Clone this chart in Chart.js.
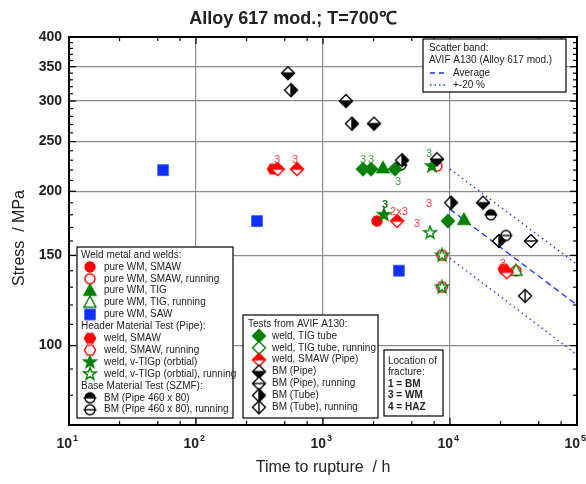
<!DOCTYPE html>
<html>
<head>
<meta charset="utf-8">
<script src="https://cdn.jsdelivr.net/npm/chart.js@4.4.1/dist/chart.umd.min.js"></script>
<style>
  html, body { margin: 0; padding: 0; background: #fff; }
  #wrap { width: 586px; height: 484px; }
</style>
</head>
<body>
<div id="wrap"><canvas id="grafico" width="586" height="484"></canvas></div>
<script>
const FONT = '"Liberation Sans", Arial, Helvetica, sans-serif';
const RED = '#ff0000', GREEN = '#008000', BLUE = '#1030ff', BLACK = '#000000';

// [time to rupture / h, stress / MPa]
const pureWmSmaw = [[2660, 175]];
const pureWmSmawRun = [[7900, 224], [33100, 140]];
const pureWmTig = [[2966, 222], [12880, 176]];
const pureWmTigRun = [[33100, 140]];
const pureWmSaw = [[55, 220], [302, 175], [3960, 140]];
const weldSmaw = [[405, 221], [26500, 141]];
const weldSmawRun = [[8650, 150], [8650, 130]];
const weldTigp = [[7210, 224], [3020, 180]];
const weldTigpRun = [[6970, 166], [8650, 150], [8650, 130]];
const bmPipe460 = [[4100, 225], [21000, 180]];
const bmPipe460Run = [[27600, 164]];
const weldTigTube = [[2065, 221], [2388, 221], [3690, 221], [9640, 175]];
const weldSmawPipe = [[440, 221], [624, 221], [3830, 175], [28000, 139]];
const bmPipe = [[530, 340], [1517, 300], [2523, 271], [7900, 231], [18200, 190]];
const bmPipeRun = [[43400, 160]];
const bmTube = [[560, 315], [1690, 271], [4190, 230], [10190, 190], [24300, 160]];
const bmTubeRun = [[39000, 125]];

// scatter band AVIF A130
const bandTime = [10000, 100000];
const bandAverage = [184.5, 120];
const bandUpper = [221, 144];
const bandLower = [148, 96];

// fracture location labels: [time, stress, text, colour]
const fractureLabels = [
  [435, 230, '3', '#ff3b3b'], [603, 230, '3', '#ff3b3b'],
  [3960, 182, '2x3', '#ff3b3b'], [5500, 173, '3', '#ff3b3b'],
  [6840, 189, '3', '#ff3b3b'], [26100, 144.5, '3', '#ff3b3b'],
  [2065, 230, '3', '#3a9a3a'], [2388, 230, '3', '#3a9a3a'],
  [3900, 209, '3', '#3a9a3a'], [6840, 236.5, '3', '#3a9a3a'],
  [3080, 188, '3', '#1d6b1d']
];

const xDecades = [10, 100, 1000, 10000, 100000];
const xExponents = ['1', '2', '3', '4', '5'];
const yTicks = [100, 150, 200, 250, 300, 350, 400];

function symbol(shape, mode, color) {
  const s = 16, c = 8;
  const cv = document.createElement('canvas');
  cv.width = s; cv.height = s;
  const g = cv.getContext('2d');
  const path = () => {
    g.beginPath();
    if (shape === 'circle') g.arc(c, c, 5, 0, Math.PI * 2);
    if (shape === 'hex') for (let k = 0; k < 6; k++) {
      const a = k * Math.PI / 3;
      g.lineTo(c + 5.6 * Math.cos(a), c + 5.6 * Math.sin(a));
    }
    if (shape === 'tri') { g.moveTo(c, c - 6.5); g.lineTo(c + 6, c + 4.5); g.lineTo(c - 6, c + 4.5); }
    if (shape === 'square') g.rect(c - 5, c - 5, 10, 10);
    if (shape === 'star') for (let k = 0; k < 10; k++) {
      const r = k % 2 ? 2.7 : 6.6, a = -Math.PI / 2 + k * Math.PI / 5;
      g.lineTo(c + r * Math.cos(a), c + r * Math.sin(a));
    }
    if (shape === 'diamond') { g.moveTo(c, c - 6.5); g.lineTo(c + 6.5, c); g.lineTo(c, c + 6.5); g.lineTo(c - 6.5, c); }
    g.closePath();
  };
  g.lineWidth = 1.4;
  g.strokeStyle = color;
  g.fillStyle = color;
  path();
  if (mode === 'fill') { g.fill(); g.stroke(); return cv; }
  g.fillStyle = '#fff';
  g.fill();
  if (mode !== 'open' && mode !== 'lineH' && mode !== 'lineV') {
    g.save();
    path();
    g.clip();
    g.fillStyle = color;
    if (mode === 'halfTop') g.fillRect(0, 0, s, c);
    if (mode === 'halfBottom') g.fillRect(0, c, s, c);
    if (mode === 'halfRight') g.fillRect(c, 0, c, s);
    g.restore();
  }
  path();
  g.stroke();
  g.beginPath();
  if (mode === 'lineH' || mode === 'halfTop' || mode === 'halfBottom') { g.moveTo(c - 6.5, c); g.lineTo(c + 6.5, c); }
  if (mode === 'lineV' || mode === 'halfRight') { g.moveTo(c, c - 6.5); g.lineTo(c, c + 6.5); }
  g.stroke();
  return cv;
}

const sym = {
  pureWmSmaw: symbol('circle', 'fill', RED),
  pureWmSmawRun: symbol('circle', 'open', RED),
  pureWmTig: symbol('tri', 'fill', GREEN),
  pureWmTigRun: symbol('tri', 'open', GREEN),
  pureWmSaw: symbol('square', 'fill', BLUE),
  weldSmaw: symbol('hex', 'fill', RED),
  weldSmawRun: symbol('hex', 'open', RED),
  weldTigp: symbol('star', 'fill', GREEN),
  weldTigpRun: symbol('star', 'open', GREEN),
  bmPipe460: symbol('circle', 'halfTop', BLACK),
  bmPipe460Run: symbol('circle', 'lineH', BLACK),
  weldTigTube: symbol('diamond', 'fill', GREEN),
  weldTigTubeRun: symbol('diamond', 'open', GREEN),
  weldSmawPipe: symbol('diamond', 'halfTop', RED),
  bmPipe: symbol('diamond', 'halfBottom', BLACK),
  bmPipeRun: symbol('diamond', 'lineH', BLACK),
  bmTube: symbol('diamond', 'halfRight', BLACK),
  bmTubeRun: symbol('diamond', 'lineV', BLACK)
};

const series = (points, style, order) => ({
  data: points.map(([x, y]) => ({ x, y })),
  pointStyle: style,
  pointRadius: 6,
  showLine: false,
  order: order
});

const band = (values, dash) => ({
  data: bandTime.map((t, i) => ({ x: t, y: values[i] })),
  showLine: true,
  pointRadius: 0,
  borderColor: BLUE,
  borderWidth: 1.3,
  borderDash: dash,
  order: 20
});

const legendWeld = [
  [null, 'Weld metal and welds:'],
  ['pureWmSmaw', 'pure WM, SMAW'],
  ['pureWmSmawRun', 'pure WM, SMAW, running'],
  ['pureWmTig', 'pure WM, TIG'],
  ['pureWmTigRun', 'pure WM, TIG, running'],
  ['pureWmSaw', 'pure WM, SAW'],
  [null, 'Header Material Test (Pipe):'],
  ['weldSmaw', 'weld, SMAW'],
  ['weldSmawRun', 'weld, SMAW, running'],
  ['weldTigp', 'weld, v-TIGp (orbtial)'],
  ['weldTigpRun', 'weld, v-TIGp (orbtial), running'],
  [null, 'Base Material Test (SZMF):'],
  ['bmPipe460', 'BM (Pipe 460 x 80)'],
  ['bmPipe460Run', 'BM (Pipe 460 x 80), running']
];
const legendAvif = [
  [null, 'Tests from AVIF A130:'],
  ['weldTigTube', 'weld, TIG tube'],
  ['weldTigTubeRun', 'weld, TIG tube, running'],
  ['weldSmawPipe', 'weld, SMAW (Pipe)'],
  ['bmPipe', 'BM (Pipe)'],
  ['bmPipeRun', 'BM (Pipe), running'],
  ['bmTube', 'BM (Tube)'],
  ['bmTubeRun', 'BM (Tube), running']
];
const fractureKey = ['1 = BM', '3 = WM', '4 = HAZ'];

function box(ctx, x1, y1, x2, y2) {
  ctx.fillStyle = '#fff';
  ctx.fillRect(x1, y1, x2 - x1, y2 - y1);
  ctx.strokeStyle = '#000';
  ctx.lineWidth = 1.2;
  ctx.strokeRect(x1, y1, x2 - x1, y2 - y1);
}

function legendRows(ctx, rows, hx, sx, tx, y0, step) {
  ctx.font = '10px ' + FONT;
  ctx.textBaseline = 'middle';
  ctx.textAlign = 'left';
  rows.forEach(([key, text], i) => {
    const y = y0 + i * step;
    ctx.fillStyle = '#222';
    if (key === null) { ctx.fillText(text, hx, y); return; }
    const im = sym[key];
    ctx.drawImage(im, sx - im.width / 2, y - im.height / 2);
    ctx.fillStyle = '#222';
    ctx.fillText(text, tx, y);
  });
}

const decor = {
  id: 'decor',
  afterDraw(chart) {
    const ctx = chart.ctx, a = chart.chartArea;
    const xs = chart.scales.x, ys = chart.scales.y;
    ctx.save();

    // fracture labels
    ctx.textAlign = 'center';
    ctx.textBaseline = 'middle';
    fractureLabels.forEach(([t, s, text, col]) => {
      ctx.fillStyle = col;
      ctx.font = (col === '#1d6b1d' ? 'bold ' : '') + '11px ' + FONT;
      ctx.fillText(text, xs.getPixelForValue(t), ys.getPixelForValue(s));
    });

    // frame and inside ticks
    ctx.strokeStyle = '#000';
    ctx.lineWidth = 2;
    ctx.strokeRect(a.left, a.top, a.right - a.left, a.bottom - a.top);
    ctx.lineWidth = 1.2;
    const tick = (x1, y1, x2, y2) => { ctx.beginPath(); ctx.moveTo(x1, y1); ctx.lineTo(x2, y2); ctx.stroke(); };
    xDecades.forEach((d, i) => {
      const px = xs.getPixelForValue(d);
      tick(px, a.bottom, px, a.bottom - 7);
      tick(px, a.top, px, a.top + 7);
      if (i < xDecades.length - 1) [2.5, 5, 7.5].forEach(f => {
        const pm = xs.getPixelForValue(d * f);
        tick(pm, a.bottom, pm, a.bottom - 4);
        tick(pm, a.top, pm, a.top + 4);
      });
    });
    for (let v = 80; v < 400; v += 10) {
      const py = ys.getPixelForValue(v);
      const len = yTicks.includes(v) ? 7 : 4;
      tick(a.left, py, a.left + len, py);
      tick(a.right, py, a.right - len, py);
    }

    // x tick labels with superscript
    ctx.fillStyle = '#222';
    ctx.textBaseline = 'alphabetic';
    xDecades.forEach((d, i) => {
      const px = xs.getPixelForValue(d);
      ctx.font = 'bold 14px ' + FONT;
      ctx.textAlign = 'right';
      ctx.fillText('10', px + 3, 448);
      ctx.font = 'bold 9px ' + FONT;
      ctx.textAlign = 'left';
      ctx.fillText(xExponents[i], px + 4, 441);
    });

    // titles
    ctx.textAlign = 'center';
    ctx.textBaseline = 'middle';
    ctx.font = 'bold 18px ' + FONT;
    ctx.fillText('Alloy 617 mod.; T=700\u2103', 293, 19);
    ctx.font = '16px ' + FONT;
    ctx.fillText('Time to rupture  / h', (a.left + a.right) / 2, 468);
    ctx.save();
    ctx.translate(20, 238);
    ctx.rotate(-Math.PI / 2);
    ctx.fillText('Stress  / MPa', 0, 0);
    ctx.restore();

    // scatter band key
    box(ctx, 423, 39, 566, 92);
    ctx.font = '10px ' + FONT;
    ctx.textAlign = 'left';
    ctx.fillStyle = '#222';
    ctx.fillText('Scatter band:', 429, 48);
    ctx.fillText('AVIF A130 (Alloy 617 mod.)', 429, 60);
    ctx.fillText('Average', 453, 73);
    ctx.fillText('+-20 %', 453, 85);
    ctx.strokeStyle = BLUE;
    ctx.lineWidth = 1.3;
    ctx.setLineDash([5, 4]);
    tick(430, 73, 448, 73);
    ctx.setLineDash([1.5, 3]);
    tick(430, 85, 448, 85);
    ctx.setLineDash([]);

    // symbol legends
    box(ctx, 77, 247, 233, 418);
    legendRows(ctx, legendWeld, 81, 90, 104, 255, 11.9);
    box(ctx, 243, 315, 378, 418);
    legendRows(ctx, legendAvif, 248, 259, 272, 324, 11.9);

    // fracture location key
    box(ctx, 384, 350, 443, 416);
    ctx.fillStyle = '#222';
    ctx.font = '10px ' + FONT;
    ctx.fillText('Location of', 388, 361);
    ctx.fillText('fracture:', 388, 372);
    ctx.font = 'bold 10px ' + FONT;
    fractureKey.forEach((t, i) => ctx.fillText(t, 388, 384 + i * 11.5));
    ctx.restore();
  }
};

new Chart(document.getElementById('grafico'), {
  type: 'scatter',
  data: {
    datasets: [
      series(bmTube, sym.bmTube, 1),
      series(bmTubeRun, sym.bmTubeRun, 1),
      series(bmPipe, sym.bmPipe, 1),
      series(bmPipeRun, sym.bmPipeRun, 1),
      series(pureWmSmaw, sym.pureWmSmaw, 5),
      series(pureWmSmawRun, sym.pureWmSmawRun, 9),
      series(pureWmTig, sym.pureWmTig, 5),
      series(pureWmTigRun, sym.pureWmTigRun, 5),
      series(pureWmSaw, sym.pureWmSaw, 5),
      series(weldSmaw, sym.weldSmaw, 6),
      series(weldSmawRun, sym.weldSmawRun, 6),
      series(weldTigp, sym.weldTigp, 3),
      series(weldTigpRun, sym.weldTigpRun, 3),
      series(bmPipe460, sym.bmPipe460, 7),
      series(bmPipe460Run, sym.bmPipe460Run, 7),
      series(weldTigTube, sym.weldTigTube, 4),
      series(weldSmawPipe, sym.weldSmawPipe, 4),
      band(bandAverage, [6, 4]),
      band(bandUpper, [1.5, 3.5]),
      band(bandLower, [1.5, 3.5])
    ]
  },
  options: {
    responsive: false,
    devicePixelRatio: 1,
    animation: false,
    layout: { padding: { top: 37, right: 9, left: 0, bottom: 0 } },
    plugins: { legend: { display: false }, tooltip: { enabled: false }, title: { display: false } },
    scales: {
      x: {
        type: 'logarithmic',
        min: 10,
        max: 100000,
        afterBuildTicks: s => { s.ticks = xDecades.map(v => ({ value: v })); },
        afterFit: s => { s.height = 59; },
        ticks: { display: false },
        grid: { color: '#8c8c8c', lineWidth: 1.2, drawTicks: false },
        border: { display: false }
      },
      y: {
        type: 'logarithmic',
        min: 70,
        max: 400,
        afterBuildTicks: s => { s.ticks = yTicks.map(v => ({ value: v })); },
        afterFit: s => { s.width = 69; },
        ticks: {
          padding: 7,
          color: '#222',
          font: { family: FONT, size: 14, weight: 'bold' },
          callback: v => String(v)
        },
        grid: { color: '#8c8c8c', lineWidth: 1.2, drawTicks: false },
        border: { display: false }
      }
    }
  },
  plugins: [decor]
});
</script>
</body>
</html>
